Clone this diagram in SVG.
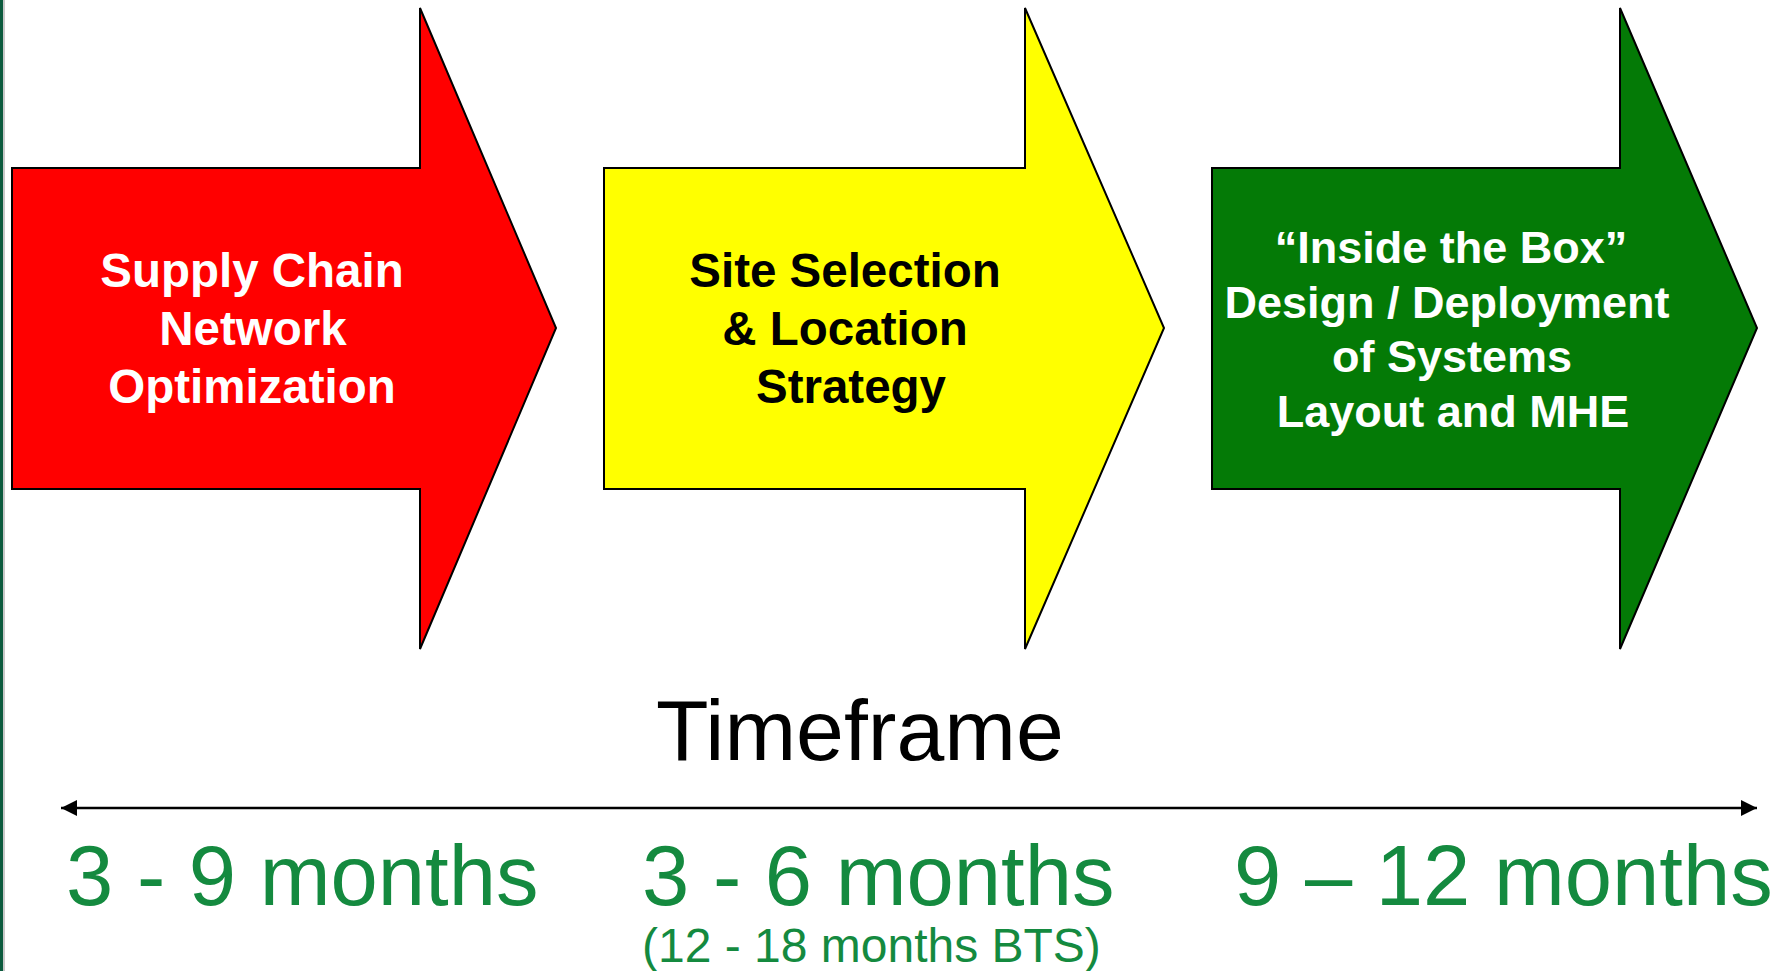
<svg xmlns="http://www.w3.org/2000/svg" width="1782" height="971" viewBox="0 0 1782 971">
  <style>
    .stage { stroke: #000000; stroke-width: 2; stroke-linejoin: miter; }
    .label { font-family: "Liberation Sans", Arial, sans-serif; font-weight: bold; font-size: 47.5px; text-anchor: middle; }
    .label-sm { font-size: 45px; }
    .title { font-family: "Liberation Sans", Arial, sans-serif; font-size: 86px; fill: #000000; }
    .period { font-family: "Liberation Sans", Arial, sans-serif; font-size: 85px; fill: #148a3f; }
    .note { font-family: "Liberation Sans", Arial, sans-serif; font-size: 48px; fill: #148a3f; }
    .axis { stroke: #000000; stroke-width: 2.5; fill: none; }
  </style>
  <defs>
    <marker id="tip-end" markerUnits="userSpaceOnUse" markerWidth="18" markerHeight="18" refX="16" refY="8" orient="auto">
      <path d="M0,0 L16,8 L0,16 Z" fill="#000000"/>
    </marker>
    <marker id="tip-start" markerUnits="userSpaceOnUse" markerWidth="18" markerHeight="18" refX="0" refY="8" orient="auto">
      <path d="M16,0 L0,8 L16,16 Z" fill="#000000"/>
    </marker>
  </defs>

  <rect width="1782" height="971" fill="#ffffff"/>
  <!-- slide edge -->
  <rect x="0" y="0" width="3" height="971" fill="#0b5a3d"/>
  <rect x="3" y="0" width="2" height="971" fill="#c8c8c8"/>

  <g id="stage-network">
    <path class="stage" fill="#ff0000" d="M12,168 H420 V8 L556,328 L420,649 V489 H12 Z"/>
    <text class="label" fill="#ffffff" x="252" y="287">Supply Chain</text>
    <text class="label" fill="#ffffff" x="253" y="345">Network</text>
    <text class="label" fill="#ffffff" x="252" y="403">Optimization</text>
  </g>

  <g id="stage-site">
    <path class="stage" fill="#ffff00" d="M604,168 H1025 V8 L1164,328 L1025,649 V489 H604 Z"/>
    <text class="label" fill="#000000" x="845" y="287">Site Selection</text>
    <text class="label" fill="#000000" x="845" y="345">&amp; Location</text>
    <text class="label" fill="#000000" x="851" y="403">Strategy</text>
  </g>

  <g id="stage-systems">
    <path class="stage" fill="#047a06" d="M1212,168 H1620 V8 L1757,328 L1620,649 V489 H1212 Z"/>
    <text class="label label-sm" fill="#ffffff" x="1451" y="263">“Inside the Box”</text>
    <text class="label label-sm" fill="#ffffff" x="1447" y="318">Design / Deployment</text>
    <text class="label label-sm" fill="#ffffff" x="1452" y="372">of Systems</text>
    <text class="label label-sm" fill="#ffffff" x="1453" y="427">Layout and MHE</text>
  </g>

  <g id="timeframe">
    <text class="title" x="656" y="760">Timeframe</text>
  </g>

  <g id="connectors">
    <line class="axis" x1="61" y1="808" x2="1757" y2="808" marker-start="url(#tip-start)" marker-end="url(#tip-end)"/>
  </g>

  <g id="durations">
    <text class="period" x="66" y="905">3 - 9 months</text>
    <text class="period" x="642" y="905">3 - 6 months</text>
    <text class="note" x="642" y="962">(12 - 18 months BTS)</text>
    <text class="period" x="1234" y="905">9 – 12 months</text>
  </g>
</svg>
